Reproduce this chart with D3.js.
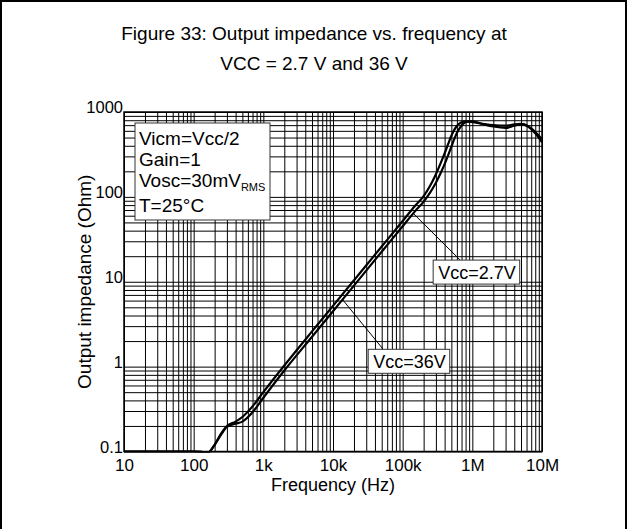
<!DOCTYPE html>
<html>
<head>
<meta charset="utf-8">
<script src="https://cdn.jsdelivr.net/npm/d3@7"></script>
<style>
  html, body { margin: 0; padding: 0; background: #fff; }
  svg { display: block; font-family: "Liberation Sans", Arial, sans-serif; }
</style>
</head>
<body>
<svg id="canvas" width="628" height="529"></svg>
<script>
// data
const freqTicks = [10, 100, 1e3, 1e4, 1e5, 1e6, 1e7]
const freqTickLabels = ["10", "100", "1k", "10k", "100k", "1M", "10M"]
const zTicks = [0.1, 1, 10, 100, 1000]
const zTickLabels = ["0.1", "1", "10", "100", "1000"]

const freq = [10, 50, 100, 130, 160, 200, 250, 300, 400, 500, 700, 1000, 2000, 5000, 10000,
  20000, 50000, 100000, 150000, 200000, 250000, 300000, 350000, 400000, 450000, 500000,
  550000, 600000, 700000, 800000, 900000, 1e6, 1.5e6, 2e6, 3e6, 4e6, 5e6, 6e6, 7e6, 8e6, 1e7]
// left / upper curve
const zUpper = [0.1, 0.1, 0.1, 0.099, 0.097, 0.12, 0.165, 0.2, 0.225, 0.255, 0.34, 0.5, 1.03, 2.6, 5.2,
  10.4, 26, 52, 78, 102, 137, 185, 248, 325, 420, 525,
  615, 685, 755, 775, 770, 760, 720, 700, 690, 715, 725, 700, 640, 580, 480]
// right / lower curve
const zLower = [0.1, 0.1, 0.1, 0.099, 0.097, 0.12, 0.16, 0.195, 0.212, 0.225, 0.29, 0.43, 0.9, 2.25, 4.5,
  9, 22.6, 45, 67.5, 88, 114, 147, 190, 243, 310, 390,
  478, 565, 695, 755, 775, 775, 710, 675, 650, 690, 715, 690, 630, 560, 440]

const infoLines = ["Vicm=Vcc/2", "Gain=1", "Vosc=30mV", "T=25°C"]
const labels = [
  { text: "Vcc=2.7V", f: 274000, z: 18, tipF: 142000, series: zLower, dx: 27 },
  { text: "Vcc=36V", f: 32000, z: 1.6, tipF: 13700, series: zLower, dx: 15 }
]

const svg = d3.select("#canvas")
const pL = 124, pR = 542, pT = 112, pB = 451.5

const x = d3.scaleLog().domain([10, 1e7]).range([pL, pR])
const y = d3.scaleLog().domain([0.1, 1000]).range([pB, pT])

// outer frame, bottom edge runs off the page
svg.append("rect")
  .attr("x", 1).attr("y", 1).attr("width", 625).attr("height", 600)
  .attr("fill", "none").attr("stroke", "#000").attr("stroke-width", 2)

svg.append("text").attr("x", 314).attr("y", 40).attr("text-anchor", "middle")
  .attr("font-size", 19).text("Figure 33: Output impedance vs. frequency at")
svg.append("text").attr("x", 314).attr("y", 70).attr("text-anchor", "middle")
  .attr("font-size", 19).text("VCC = 2.7 V and 36 V")

// log grid: every 1..9 in each decade
function minorVals(a, b) {
  const out = []
  for (let d = a; d < b * 0.999; d *= 10) for (let m = 1; m < 10; m++) out.push(d * m)
  out.push(b)
  return out
}

svg.append("g")
  .attr("transform", `translate(0,${pB})`)
  .call(d3.axisBottom(x).tickValues(minorVals(10, 1e7)).tickSize(-(pB - pT)).tickFormat(""))
  .call(g => g.select(".domain").remove())
  .selectAll("line").attr("stroke", "#000").attr("stroke-width", 1)

svg.append("g")
  .attr("transform", `translate(${pL},0)`)
  .call(d3.axisLeft(y).tickValues(minorVals(0.1, 1000)).tickSize(-(pR - pL)).tickFormat(""))
  .call(g => g.select(".domain").remove())
  .selectAll("line").attr("stroke", "#000").attr("stroke-width", 1)

svg.append("rect")
  .attr("x", pL).attr("y", pT).attr("width", pR - pL).attr("height", pB - pT)
  .attr("fill", "none").attr("stroke", "#000").attr("stroke-width", 1.5)

// tick labels
const xAxis = svg.append("g")
  .attr("transform", `translate(0,${pB})`)
  .call(d3.axisBottom(x).tickValues(freqTicks).tickSize(0).tickPadding(0)
    .tickFormat((d, i) => freqTickLabels[i]))
xAxis.select(".domain").remove()
xAxis.selectAll("text").attr("dy", null).attr("y", 19)
  .attr("font-size", 17).attr("font-family", "Liberation Sans, Arial, sans-serif").attr("fill", "#000")

const yAxis = svg.append("g")
  .attr("transform", `translate(${pL},0)`)
  .call(d3.axisLeft(y).tickValues(zTicks).tickSize(0).tickPadding(1)
    .tickFormat((d, i) => zTickLabels[i]))
yAxis.select(".domain").remove()
yAxis.selectAll("text").attr("dy", "0.05em")
  .attr("font-size", 16.5).attr("font-family", "Liberation Sans, Arial, sans-serif").attr("fill", "#000")

svg.append("text").attr("x", (pL + pR) / 2).attr("y", 491).attr("text-anchor", "middle")
  .attr("font-size", 18).text("Frequency (Hz)")
svg.append("text").attr("transform", `translate(91,${(pT + pB) / 2}) rotate(-90)`)
  .attr("text-anchor", "middle").attr("font-size", 19).text("Output impedance (Ohm)")

// curves
svg.append("clipPath").attr("id", "plot")
  .append("rect").attr("x", pL).attr("y", pT).attr("width", pR - pL).attr("height", pB - pT + 1)

const line = d3.line().curve(d3.curveMonotoneX)
  .x(d => x(d[0])).y(d => y(d[1]))

const curves = svg.append("g").attr("clip-path", "url(#plot)")
;[zUpper, zLower].forEach(zs => {
  curves.append("path")
    .datum(freq.map((f, i) => [f, zs[i]]))
    .attr("d", line)
    .attr("fill", "none").attr("stroke", "#000").attr("stroke-width", 2.2)
})

// conditions box
const info = svg.append("g")
info.append("rect").attr("x", 135).attr("y", 123).attr("width", 135).attr("height", 97)
  .attr("fill", "#fff").attr("stroke", "#333").attr("stroke-width", 1)
infoLines.forEach((t, i) => {
  const tx = info.append("text").attr("x", 139).attr("y", [145, 166, 187, 212][i])
    .attr("font-size", 19).text(t)
  if (i === 2) tx.append("tspan").attr("font-size", 11).attr("dy", 4).text("RMS")
})

// curve labels with leader lines
function interpZ(series, f) {
  const lf = Math.log10(f)
  for (let i = 1; i < freq.length; i++) {
    if (f <= freq[i]) {
      const a = Math.log10(freq[i - 1]), b = Math.log10(freq[i])
      const t = (lf - a) / (b - a)
      return Math.pow(10, Math.log10(series[i - 1]) * (1 - t) + Math.log10(series[i]) * t)
    }
  }
  return series[series.length - 1]
}

labels.forEach(l => {
  const bx = x(l.f), by = y(l.z)
  const tx = x(l.tipF), ty = y(interpZ(l.series, l.tipF))
  svg.append("line")
    .attr("x1", bx + l.dx).attr("y1", by).attr("x2", tx).attr("y2", ty)
    .attr("stroke", "#000").attr("stroke-width", 1)
  const g = svg.append("g")
  const t = g.append("text").attr("x", bx + 5).attr("y", by + 19).attr("font-size", 18).text(l.text)
  const w = t.node().getComputedTextLength()
  g.insert("rect", "text").attr("x", bx).attr("y", by).attr("width", w + 9).attr("height", 24)
    .attr("fill", "#fff").attr("stroke", "#333").attr("stroke-width", 1)
})
</script>
</body>
</html>
